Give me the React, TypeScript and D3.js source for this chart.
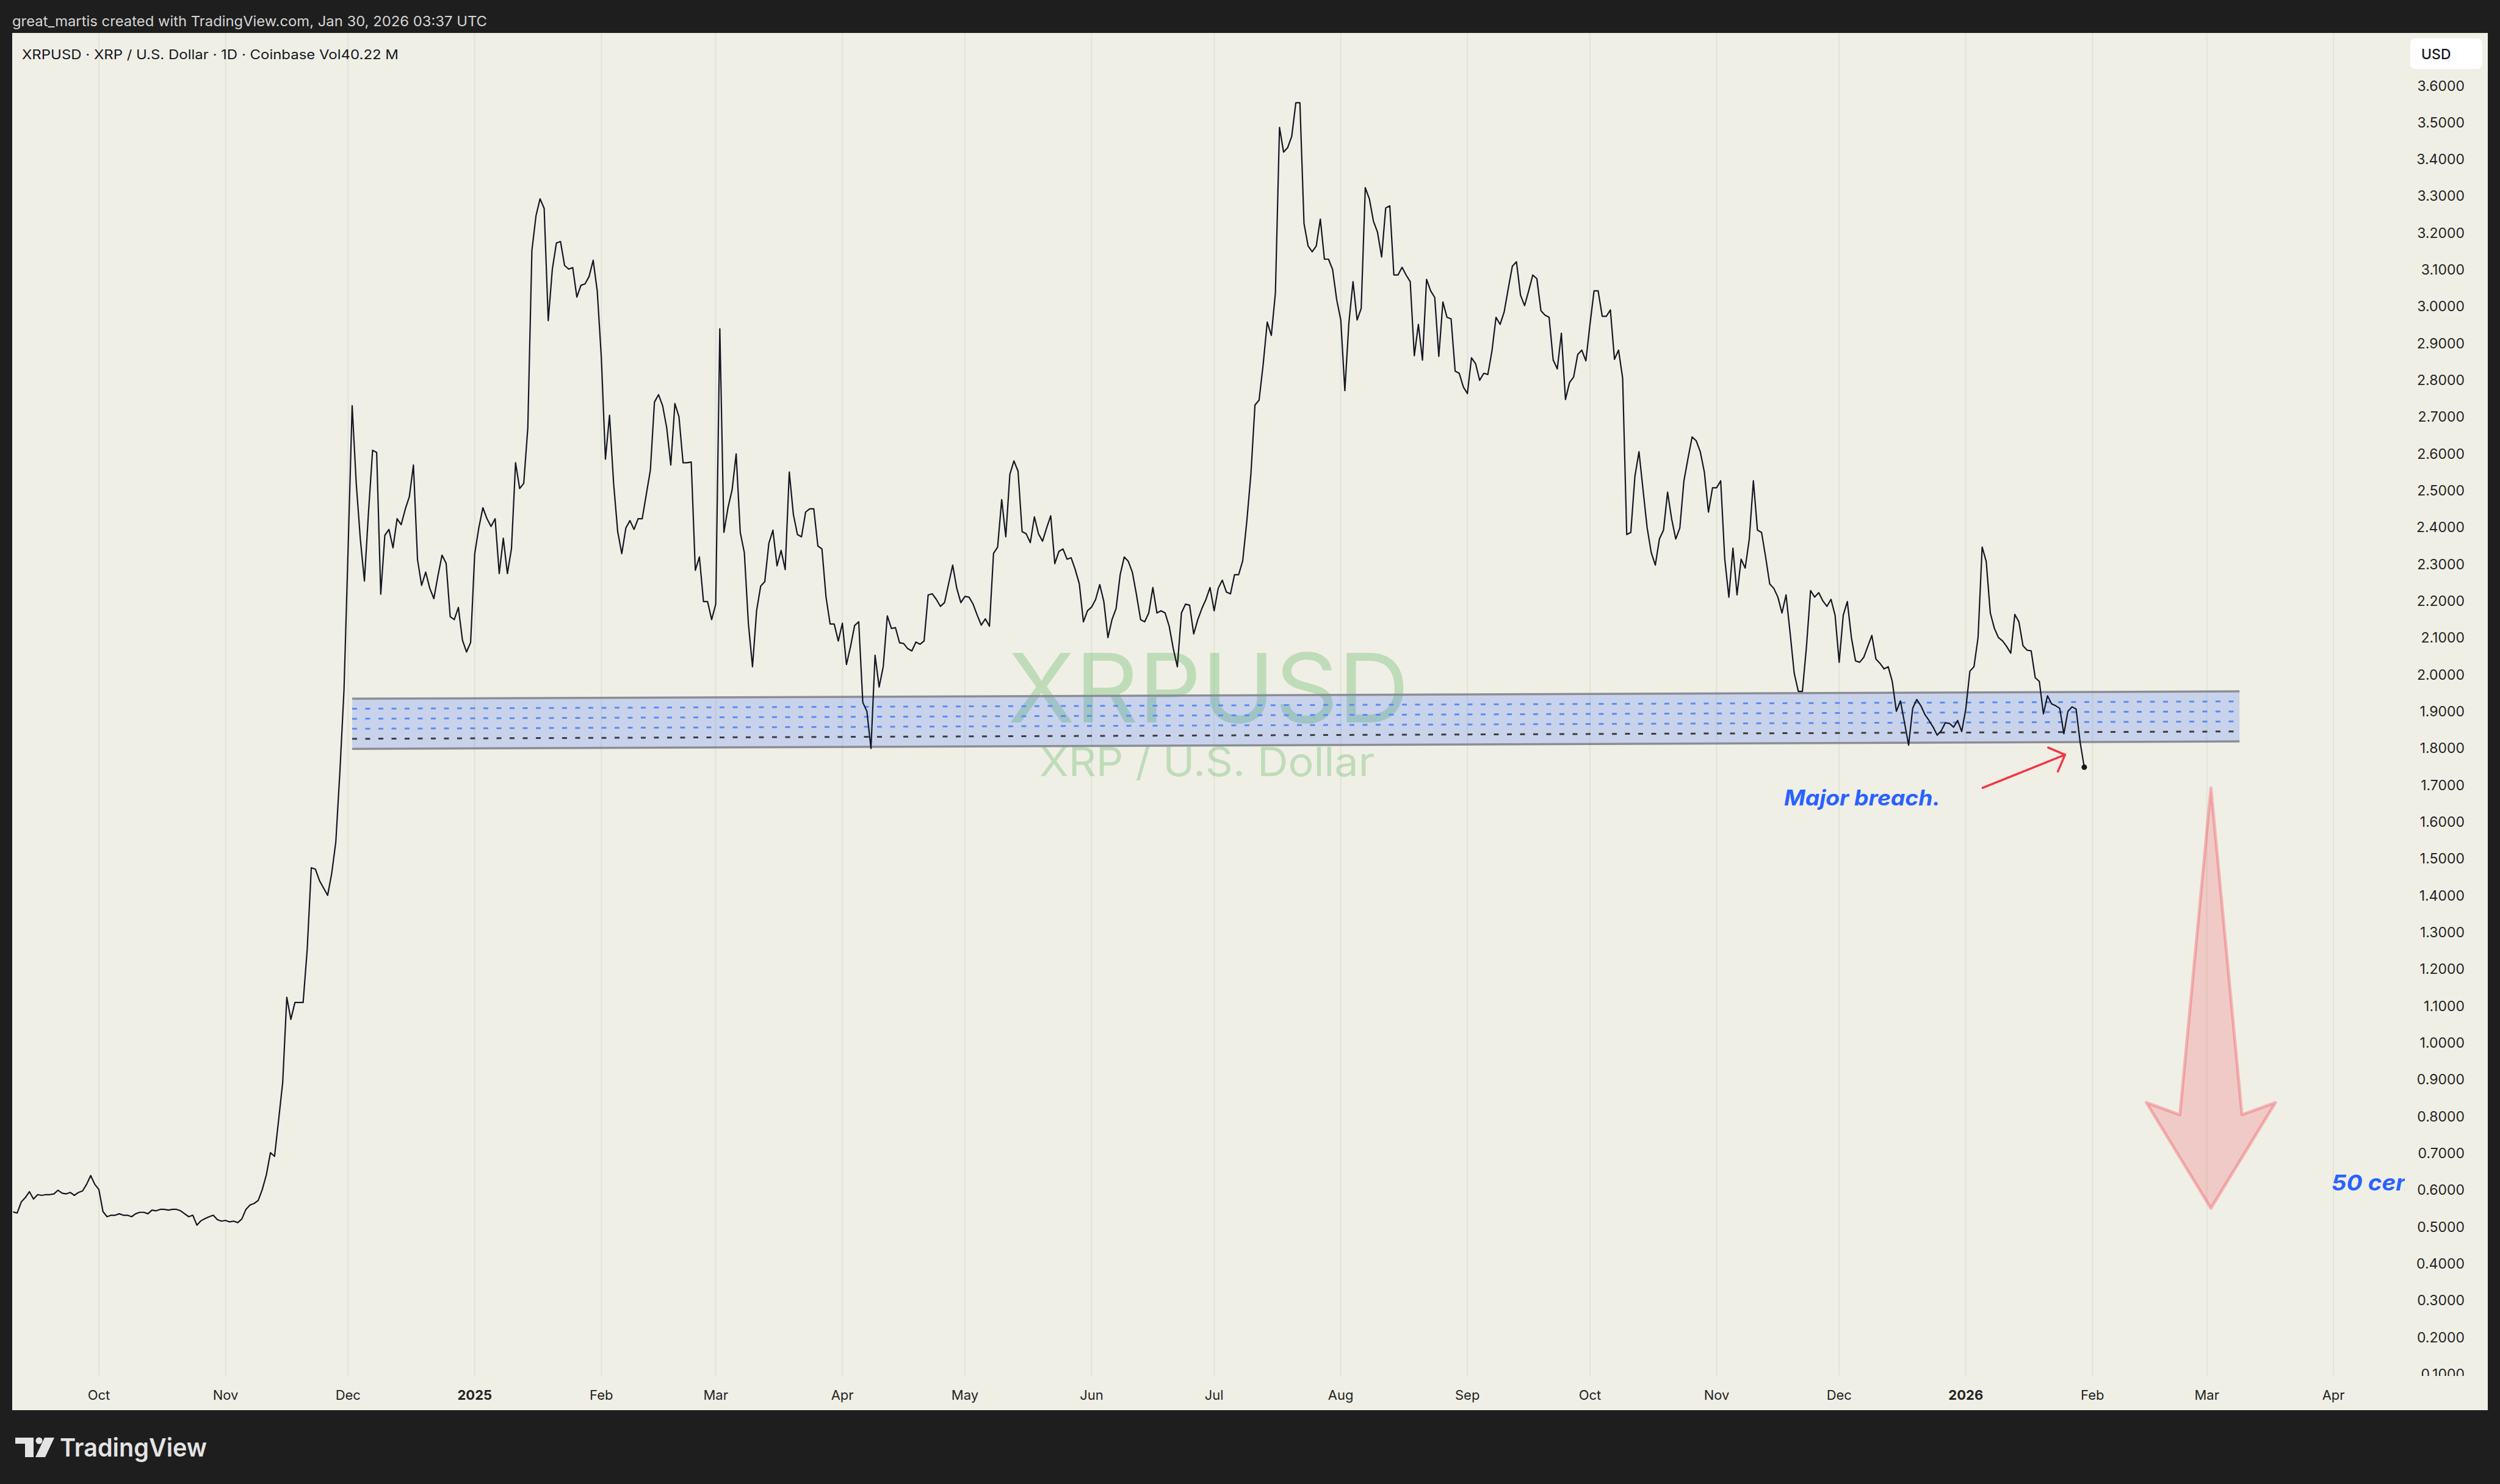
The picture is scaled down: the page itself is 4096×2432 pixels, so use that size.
import React from 'react';
import * as d3 from 'd3';

const W = 4096;
const H = 2432;

// ---------- daily closes (XRPUSD, Coinbase) ----------
const sep2024 = [0.540, 0.537, 0.567, 0.579, 0.595, 0.575, 0.587, 0.585, 0.587, 0.587, 0.589, 0.599, 0.591, 0.589, 0.593, 0.585, 0.593, 0.597, 0.615, 0.639, 0.615];
const oct2024 = [0.601, 0.541, 0.527, 0.531, 0.531, 0.535, 0.531, 0.531, 0.527, 0.535, 0.539, 0.539, 0.535, 0.545, 0.543, 0.547, 0.547, 0.545, 0.547, 0.547, 0.543, 0.535, 0.527, 0.531, 0.504, 0.516, 0.522, 0.527, 0.531, 0.519, 0.515];
const nov2024 = [0.517, 0.513, 0.515, 0.511, 0.521, 0.547, 0.559, 0.563, 0.571, 0.601, 0.641, 0.701, 0.691, 0.790, 0.892, 1.123, 1.063, 1.109, 1.109, 1.109, 1.254, 1.475, 1.471, 1.440, 1.420, 1.400, 1.460, 1.545, 1.736, 1.957];
const dec2024 = [2.338, 2.730, 2.519, 2.368, 2.254, 2.440, 2.609, 2.603, 2.218, 2.378, 2.394, 2.344, 2.423, 2.407, 2.449, 2.483, 2.569, 2.312, 2.242, 2.278, 2.234, 2.206, 2.268, 2.324, 2.302, 2.157, 2.149, 2.182, 2.093, 2.061, 2.087];
const jan2025 = [2.328, 2.398, 2.453, 2.423, 2.402, 2.423, 2.274, 2.370, 2.274, 2.342, 2.575, 2.505, 2.519, 2.670, 3.152, 3.246, 3.292, 3.266, 2.961, 3.101, 3.172, 3.176, 3.111, 3.101, 3.105, 3.025, 3.057, 3.061, 3.081, 3.125, 3.041];
const feb2025 = [2.860, 2.585, 2.704, 2.519, 2.388, 2.328, 2.398, 2.418, 2.394, 2.423, 2.423, 2.489, 2.555, 2.740, 2.760, 2.730, 2.670, 2.569, 2.736, 2.700, 2.575, 2.575, 2.577, 2.283, 2.319, 2.198, 2.198, 2.149];
const mar2025 = [2.191, 2.939, 2.386, 2.453, 2.501, 2.599, 2.386, 2.331, 2.137, 2.021, 2.173, 2.240, 2.252, 2.356, 2.392, 2.295, 2.337, 2.285, 2.550, 2.435, 2.380, 2.374, 2.441, 2.450, 2.450, 2.349, 2.341, 2.210, 2.137, 2.137, 2.091];
const apr2025 = [2.139, 2.027, 2.076, 2.133, 2.143, 1.924, 1.900, 1.799, 2.052, 1.966, 2.021, 2.159, 2.125, 2.127, 2.086, 2.084, 2.070, 2.064, 2.088, 2.082, 2.091, 2.216, 2.219, 2.204, 2.185, 2.195, 2.246, 2.297, 2.234, 2.195];
const may2025 = [2.212, 2.210, 2.191, 2.161, 2.134, 2.151, 2.131, 2.329, 2.346, 2.475, 2.374, 2.544, 2.580, 2.552, 2.388, 2.382, 2.358, 2.428, 2.382, 2.362, 2.398, 2.431, 2.301, 2.334, 2.341, 2.313, 2.317, 2.285, 2.246, 2.143, 2.173];
const jun2025 = [2.183, 2.204, 2.244, 2.198, 2.100, 2.149, 2.179, 2.271, 2.319, 2.307, 2.277, 2.216, 2.149, 2.143, 2.167, 2.236, 2.167, 2.173, 2.167, 2.131, 2.070, 2.021, 2.167, 2.191, 2.188, 2.110, 2.149, 2.179, 2.204, 2.236];
const jul2025 = [2.173, 2.234, 2.256, 2.224, 2.219, 2.271, 2.271, 2.309, 2.416, 2.544, 2.732, 2.745, 2.842, 2.957, 2.921, 3.036, 3.486, 3.419, 3.431, 3.462, 3.553, 3.553, 3.225, 3.164, 3.148, 3.164, 3.237, 3.128, 3.128, 3.100, 3.018];
const aug2025 = [2.963, 2.771, 2.957, 3.067, 2.963, 2.994, 3.322, 3.292, 3.231, 3.201, 3.134, 3.267, 3.273, 3.085, 3.085, 3.106, 3.085, 3.067, 2.866, 2.951, 2.854, 3.073, 3.042, 3.024, 2.864, 3.012, 2.970, 2.966, 2.824, 2.818, 2.781];
const sep2025 = [2.763, 2.860, 2.844, 2.799, 2.818, 2.815, 2.878, 2.970, 2.951, 2.985, 3.048, 3.109, 3.121, 3.030, 3.002, 3.042, 3.085, 3.075, 2.988, 2.976, 2.970, 2.854, 2.830, 2.927, 2.747, 2.793, 2.808, 2.869, 2.881, 2.852];
const oct2025 = [2.951, 3.042, 3.042, 2.973, 2.973, 2.990, 2.856, 2.881, 2.805, 2.380, 2.386, 2.538, 2.605, 2.501, 2.398, 2.331, 2.297, 2.368, 2.392, 2.495, 2.422, 2.368, 2.398, 2.526, 2.587, 2.645, 2.635, 2.605, 2.550, 2.441, 2.507];
const nov2025 = [2.507, 2.526, 2.313, 2.210, 2.343, 2.216, 2.313, 2.289, 2.368, 2.526, 2.392, 2.386, 2.319, 2.246, 2.234, 2.210, 2.167, 2.216, 2.112, 2.003, 1.954, 1.954, 2.076, 2.228, 2.210, 2.222, 2.200, 2.185, 2.204, 2.161];
const dec2025 = [2.033, 2.161, 2.198, 2.100, 2.037, 2.033, 2.046, 2.076, 2.106, 2.042, 2.030, 2.015, 2.021, 1.981, 1.900, 1.928, 1.869, 1.808, 1.908, 1.932, 1.915, 1.891, 1.875, 1.857, 1.835, 1.847, 1.869, 1.867, 1.857, 1.875, 1.845];
const jan2026 = [1.906, 2.009, 2.021, 2.100, 2.346, 2.307, 2.167, 2.125, 2.100, 2.091, 2.076, 2.058, 2.163, 2.143, 2.078, 2.066, 2.064, 1.991, 1.981, 1.893, 1.942, 1.920, 1.915, 1.908, 1.839, 1.900, 1.912, 1.906, 1.815, 1.748];

const monthBlocks: [string, number[]][] = [
  ['2024-09-10', sep2024], ['2024-10-01', oct2024], ['2024-11-01', nov2024], ['2024-12-01', dec2024],
  ['2025-01-01', jan2025], ['2025-02-01', feb2025], ['2025-03-01', mar2025], ['2025-04-01', apr2025],
  ['2025-05-01', may2025], ['2025-06-01', jun2025], ['2025-07-01', jul2025], ['2025-08-01', aug2025],
  ['2025-09-01', sep2025], ['2025-10-01', oct2025], ['2025-11-01', nov2025], ['2025-12-01', dec2025],
  ['2026-01-01', jan2026],
];

// ---------- axes ----------
const timeTickDates = ['2024-10-01', '2024-11-01', '2024-12-01', '2025-01-01', '2025-02-01', '2025-03-01', '2025-04-01', '2025-05-01', '2025-06-01', '2025-07-01', '2025-08-01', '2025-09-01', '2025-10-01', '2025-11-01', '2025-12-01', '2026-01-01', '2026-02-01', '2026-03-01', '2026-04-01'];
const timeTickLabels = ['Oct', 'Nov', 'Dec', '2025', 'Feb', 'Mar', 'Apr', 'May', 'Jun', 'Jul', 'Aug', 'Sep', 'Oct', 'Nov', 'Dec', '2026', 'Feb', 'Mar', 'Apr'];
const priceTicks = [3.6, 3.5, 3.4, 3.3, 3.2, 3.1, 3.0, 2.9, 2.8, 2.7, 2.6, 2.5, 2.4, 2.3, 2.2, 2.1, 2.0, 1.9, 1.8, 1.7, 1.6, 1.5, 1.4, 1.3, 1.2, 1.1, 1.0, 0.9, 0.8, 0.7, 0.6, 0.5, 0.4, 0.3, 0.2, 0.1];

// ---------- drawings (data coordinates) ----------
const channelDates = ['2024-12-02', '2026-03-09'];
const channelTop = [1.934, 1.954];
const channelBottom = [1.798, 1.818];
const channelBlueLevels = [0.2, 0.4, 0.6];
const channelDarkLevels = [0.8];

const breachArrowFrom = { date: '2026-01-05T03:00:00Z', value: 1.692 };
const breachArrowTo = { date: '2026-01-25T07:00:00Z', value: 1.782 };
const breachLabel = { date: '2025-11-17T12:00:00Z', value: 1.644, text: 'Major breach.' };

const bigArrow = { date: '2026-03-02', top: 1.692, shaftBase: 0.804, wing: 0.837, tip: 0.55, shaftHalfDays: 7.6, wingHalfDays: 15.8 };
const targetLabel = { date: '2026-03-31T12:00:00Z', value: 0.598, text: '50 cents' };

const FONT = "Inter, 'Noto Sans', Roboto, sans-serif";
const pd = (s: string) => new Date(s.length === 10 ? s + 'T00:00:00Z' : s);

export default function App() {
  const x = d3.scaleUtc().domain([pd('2024-10-01'), pd('2025-10-01')]).range([162, 2605]);
  const y = d3.scaleLinear().domain([0.1, 3.6]).range([2251.6, 140]);

  const points = monthBlocks.flatMap(([start, vals]) =>
    vals.map((v, i) => ({ date: d3.utcDay.offset(pd(start), i), v }))
  );
  const line = d3.line<{ date: Date; v: number }>().x((d) => x(d.date)).y((d) => y(d.v));
  const path = line(points) || '';
  const last = points[points.length - 1];

  // channel
  const cx1 = x(pd(channelDates[0]));
  const cx2 = x(pd(channelDates[1]));
  const levelY = (f: number, i: number) => y(channelTop[i] + (channelBottom[i] - channelTop[i]) * f);
  const bandPoly = [
    [cx1, y(channelTop[0])], [cx2, y(channelTop[1])], [cx2, y(channelBottom[1])], [cx1, y(channelBottom[0])],
  ].map((p) => p.join(',')).join(' ');

  // breach arrow
  const ax1 = x(pd(breachArrowFrom.date)), ay1 = y(breachArrowFrom.value);
  const ax2 = x(pd(breachArrowTo.date)), ay2 = y(breachArrowTo.value);
  const ang = Math.atan2(ay1 - ay2, ax1 - ax2);
  const wl = 30;
  const w1 = [ax2 + wl * Math.cos(ang + Math.PI / 4), ay2 + wl * Math.sin(ang + Math.PI / 4)];
  const w2 = [ax2 + wl * Math.cos(ang - Math.PI / 4), ay2 + wl * Math.sin(ang - Math.PI / 4)];

  // big down arrow
  const bc = pd(bigArrow.date);
  const bx = x(bc);
  const bxs = (days: number) => x(new Date(bc.getTime() + days * 86400000));
  const bigPts = [
    [bx, y(bigArrow.top)],
    [bxs(bigArrow.shaftHalfDays), y(bigArrow.shaftBase)],
    [bxs(bigArrow.wingHalfDays), y(bigArrow.wing)],
    [bx, y(bigArrow.tip)],
    [bxs(-bigArrow.wingHalfDays), y(bigArrow.wing)],
    [bxs(-bigArrow.shaftHalfDays), y(bigArrow.shaftBase)],
  ].map((p) => p.join(',')).join(' ');

  const plotL = 20, plotT = 54, plotR = 3940, plotB = 2255;

  return (
    <svg width={W} height={H} viewBox={`0 0 ${W} ${H}`} style={{ position: 'absolute', left: 0, top: 0, display: 'block' }}>
      <defs>
        <clipPath id="plotClip">
          <rect x={plotL} y={plotT} width={plotR - plotL} height={plotB - plotT} />
        </clipPath>
        <clipPath id="axisClip">
          <rect x={plotR} y={plotT} width={4076 - plotR} height={plotB - plotT} />
        </clipPath>
      </defs>
      <rect x={0} y={0} width={W} height={H} fill="#1e1e1e" />
      <text x={20} y={43} fontFamily={FONT} fontSize={23} fill="#d6d6d6" textLength={778} lengthAdjust="spacingAndGlyphs">
        great_martis created with TradingView.com, Jan 30, 2026 03:37 UTC
      </text>

      {/* panel */}
      <rect x={20} y={54} width={4056} height={2257} fill="#f0efe6" />

      {/* vertical grid */}
      {timeTickDates.map((d) => (
        <line key={'g' + d} x1={x(pd(d))} x2={x(pd(d))} y1={plotT} y2={plotB} stroke="#dfe4d6" strokeWidth={2} />
      ))}

      <g clipPath="url(#plotClip)">
        {/* watermark */}
        <text x={1651} y={1184} fontFamily={FONT} fontSize={157} fill="rgba(76,175,80,0.3)" textLength={658} lengthAdjust="spacingAndGlyphs">XRPUSD</text>
        <text x={1703} y={1272} fontFamily={FONT} fontSize={66} fill="rgba(76,175,80,0.3)" textLength={549} lengthAdjust="spacingAndGlyphs">XRP / U.S. Dollar</text>

        {/* channel */}
        <polygon points={bandPoly} fill="rgba(41,98,255,0.2)" />
        <line x1={cx1} y1={y(channelTop[0])} x2={cx2} y2={y(channelTop[1])} stroke="#8a8d95" strokeWidth={3.5} />
        <line x1={cx1} y1={y(channelBottom[0])} x2={cx2} y2={y(channelBottom[1])} stroke="#8a8d95" strokeWidth={3.5} />
        {channelBlueLevels.map((f) => (
          <line key={'b' + f} x1={cx1} y1={levelY(f, 0)} x2={cx2} y2={levelY(f, 1)} stroke="#5b8cf2" strokeWidth={3} strokeDasharray="8 13.5" />
        ))}
        {channelDarkLevels.map((f) => (
          <line key={'k' + f} x1={cx1} y1={levelY(f, 0)} x2={cx2} y2={levelY(f, 1)} stroke="#3a3c42" strokeWidth={3} strokeDasharray="8 13.5" />
        ))}

        {/* price line */}
        <path d={path} fill="none" stroke="#131722" strokeWidth={2.2} strokeLinejoin="round" />
        <circle cx={x(last.date)} cy={y(last.v)} r={4.5} fill="#131722" />

        {/* breach arrow */}
        <polyline points={`${ax1},${ay1} ${ax2},${ay2}`} fill="none" stroke="#f23645" strokeWidth={3.5} strokeLinecap="round" />
        <polyline points={`${w1[0]},${w1[1]} ${ax2},${ay2} ${w2[0]},${w2[1]}`} fill="none" stroke="#f23645" strokeWidth={3.5} strokeLinecap="round" strokeLinejoin="round" />
        <text x={x(pd(breachLabel.date))} y={y(breachLabel.value)} fontFamily={FONT} fontSize={35} fontWeight={700} fontStyle="italic" fill="#2962ff" textLength={256} lengthAdjust="spacingAndGlyphs">{breachLabel.text}</text>

        {/* big down arrow */}
        <polygon points={bigPts} fill="rgba(242,54,69,0.2)" stroke="rgba(242,54,69,0.3)" strokeWidth={5} strokeLinejoin="round" />
        <text x={x(pd(targetLabel.date))} y={y(targetLabel.value)} fontFamily={FONT} fontSize={36} fontWeight={700} fontStyle="italic" fill="#2962ff" textLength={165} lengthAdjust="spacingAndGlyphs">{targetLabel.text}</text>
      </g>

      {/* price scale */}
      <g clipPath="url(#axisClip)">
        {priceTicks.map((p) => (
          <text key={'p' + p} x={4038} y={y(p) + 8.5} textAnchor="end" fontFamily={FONT} fontSize={23} fill="#232323">{p.toFixed(4)}</text>
        ))}
      </g>
      <rect x={3949} y={63} width={118} height={50} rx={8} fill="#ffffff" />
      <text x={3967} y={97} fontFamily={FONT} fontSize={23} fontWeight={500} fill="#131722">USD</text>

      {/* time scale */}
      {timeTickDates.map((d, i) => {
        const lab = timeTickLabels[i];
        const bold = /^\d{4}$/.test(lab);
        return (
          <text key={'t' + d} x={x(pd(d))} y={2294} textAnchor="middle" fontFamily={FONT} fontSize={22} fontWeight={bold ? 700 : 400} fill="#232323">{lab}</text>
        );
      })}

      {/* legend */}
      <text x={36} y={97} fontFamily={FONT} fontSize={21} fill="#131722" textLength={617} lengthAdjust="spacingAndGlyphs">
        XRPUSD · XRP / U.S. Dollar · 1D · Coinbase  Vol40.22 M
      </text>

      {/* TradingView logo */}
      <g fill="#e4e4e4">
        <path d="M25,2356 H55 V2388 H41 V2366 H25 Z" />
        <circle cx={64} cy={2361} r={5.5} />
        <path d="M73,2356 H89 L74,2388 H58 Z" />
        <text x={98} y={2387} fontFamily={FONT} fontSize={41} fontWeight={600} textLength={241} lengthAdjust="spacingAndGlyphs">TradingView</text>
      </g>
    </svg>
  );
}
